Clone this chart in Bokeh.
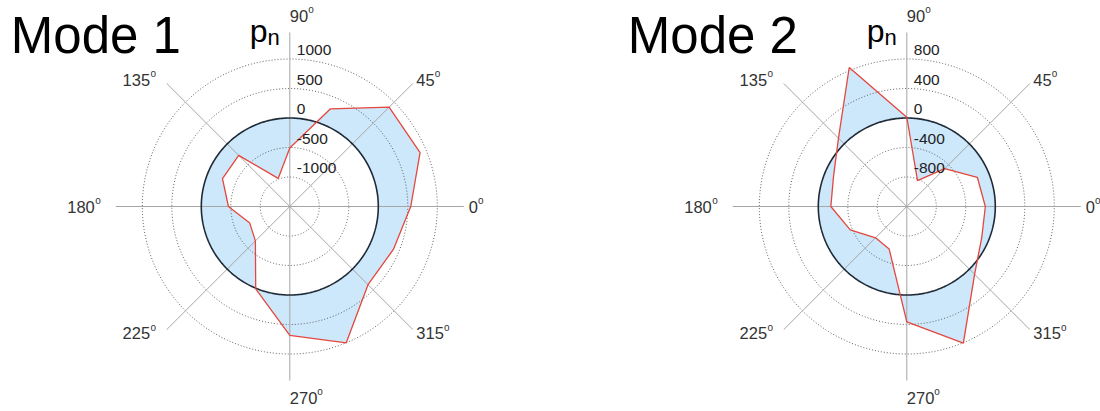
import numpy as np
from bokeh.plotting import figure
from bokeh.layouts import row
from bokeh.models import Range1d
from bokeh.embed import file_html
from bokeh.resources import INLINE
from bokeh.core.properties import value

# Normal pressure p_n sampled around the section, every 22.5 degrees from 0
theta_deg = [0.0, 22.5, 45.0, 67.5, 90.0, 112.5, 135.0, 157.5,
             180.0, 202.5, 225.0, 247.5, 270.0, 292.5, 315.0, 337.5]
mode1_pn = [550, 890, 880, 290, -510, -985, -275, -265,
            -460, -765, -675, 10, 685, 1000, 375, 400]
mode2_pn = [-135, -165, -475, -820, 10, 840, 110, -125,
            -170, -370, -600, -575, 365, 805, 100, -100]

# Radial tick values of each panel and the spoke angles
mode1_rticks = [-1000, -500, 0, 500, 1000]
mode2_rticks = [-800, -400, 0, 400, 800]
spoke_deg = [0, 45, 90, 135, 180, 225, 270, 315]
mode_titles = ["Mode 1", "Mode 2"]
var_main, var_sub = "p", "n"

FONT = "Liberation Sans"
W, H = 550, 411
UNIT = 29.5            # screen px per radial grid step
FILL = "#cde7fb"
RED = "#e4473d"
RING0 = "#1f2a36"
DOT = "#505050"
SPOKE = "#a6a6a6"


def px(v):
    return v / UNIT


def label(p, x, y, txt, size, color, align="left"):
    p.text(x=[x], y=[y], text=[txt], text_font=value(FONT),
           text_font_size=f"{size}px", text_color=color,
           text_align=align, text_baseline="middle")


def make_panel(title, pn, rticks, cx_px, cy_px):
    step = rticks[1] - rticks[0]
    pole = rticks[0] - step              # value sitting at the centre

    def rad(v):
        return (np.asarray(v, dtype=float) - pole) / step

    p = figure(width=W, height=H,
               x_range=Range1d(-px(cx_px), px(W - cx_px)),
               y_range=Range1d(-px(H - cy_px), px(cy_px)),
               x_axis_type=None, y_axis_type=None,
               toolbar_location=None, output_backend="svg",
               min_border=0, outline_line_color=None,
               background_fill_color="white", border_fill_color="white")

    # band between the zero circle and the pressure polygon
    th = np.radians(theta_deg)
    r = rad(pn)
    n = len(th)
    dth = 2 * np.pi / n
    tt = np.linspace(0, 2 * np.pi, 1441)
    rp = np.empty_like(tt)
    for k, t in enumerate(tt):
        i = min(int(np.floor(t / dth + 1e-9)), n - 1)
        t1, t2 = i * dth, (i + 1) * dth
        r1, r2 = r[i], r[(i + 1) % n]
        rp[k] = r1 * r2 * np.sin(dth) / (r1 * np.sin(t - t1) + r2 * np.sin(t2 - t))
    r0 = float(rad(0))
    outer = np.maximum(rp, r0)
    inner = np.minimum(rp, r0)[::-1]
    tin = tt[::-1]
    p.multi_polygons(
        xs=[[[list(outer * np.cos(tt)), list(inner * np.cos(tin))]]],
        ys=[[[list(outer * np.sin(tt)), list(inner * np.sin(tin))]]],
        fill_color=FILL, line_color=None)

    # dotted range rings
    rr = rad(rticks)
    circ = np.linspace(0, 2 * np.pi, 361)
    for v, t in zip(rr, rticks):
        if t == 0:
            continue
        p.line(v * np.cos(circ), v * np.sin(circ), line_color=DOT,
               line_width=0.9, line_dash="1 2")

    # spokes
    L = 5.9
    sa = np.radians(spoke_deg)
    p.segment(x0=[0] * len(sa), y0=[0] * len(sa),
              x1=list(L * np.cos(sa)), y1=list(L * np.sin(sa)),
              line_color=SPOKE, line_width=1)

    # zero circle
    p.line(r0 * np.cos(circ), r0 * np.sin(circ), line_color=RING0, line_width=1.6)

    # pressure polygon
    xs_ = list(r * np.cos(th)) + [r[0] * np.cos(th[0])]
    ys_ = list(r * np.sin(th)) + [r[0] * np.sin(th[0])]
    p.line(xs_, ys_, line_color=RED, line_width=1.3)

    # radial tick labels, just above each ring on the vertical spoke
    for v, t in zip(rr, rticks):
        label(p, px(7), v + px(8.6), str(t), 15.5, "#222222")

    # angle labels with a raised "o"
    fs, fsup = 16.5, 10.0
    for d in spoke_deg:
        a = np.radians(d)
        c, s = np.cos(a), np.sin(a)
        lab = str(d)
        if abs(c) < 0.1:
            ay = px(191) * np.sign(s)
            x_main, al = 0.0, "left"
            x_sup = x_main + px(len(lab) * 0.556 * fs)
        elif c > 0:
            ay = px(179) * s
            x_main, al = px(179) * c, "left"
            x_sup = x_main + px(len(lab) * 0.556 * fs)
        else:
            ay = px(179) * s
            x_sup, al = px(189) * c, "right"
            x_main = x_sup - px(0.556 * fsup + 0.5)
        label(p, x_main, ay, lab, fs, "#333333", al)
        label(p, x_sup, ay + px(6), "o", fsup, "#333333", al)

    # variable name p_n
    label(p, px(-40), px(cy_px - 30), var_main, 32, "black")
    label(p, px(-40 + 0.556 * 32), px(cy_px - 36.5), var_sub, 22, "black")

    # panel title
    label(p, px(-279), px(cy_px - 35), title, 51, "black")
    return p


p1 = make_panel(mode_titles[0], mode1_pn, mode1_rticks, 289.3, 206.0)
p2 = make_panel(mode_titles[1], mode2_pn, mode2_rticks, 356.3, 206.0)
layout = row(p1, p2, spacing=0)

open("out.html", "w").write(file_html(layout, INLINE))
